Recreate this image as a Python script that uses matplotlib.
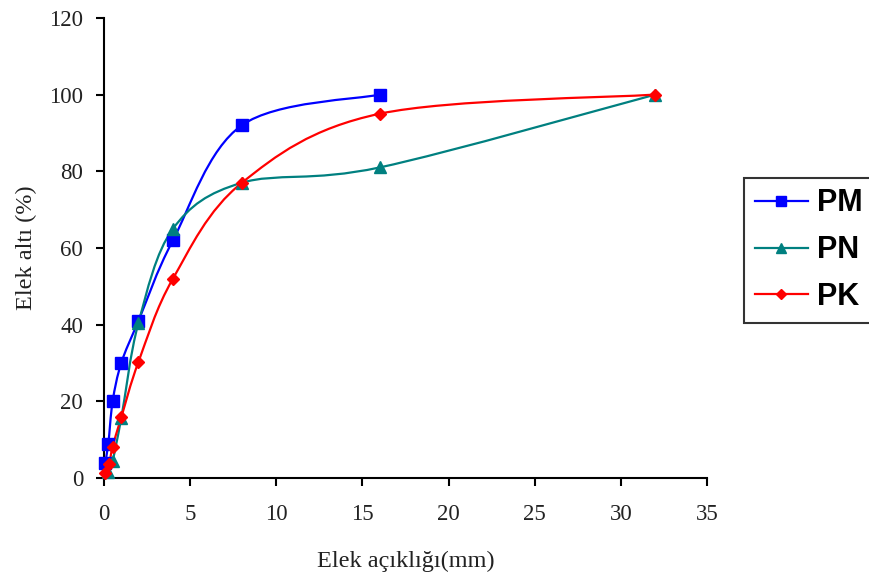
import matplotlib
matplotlib.use("Agg")
import matplotlib.pyplot as plt
from matplotlib.path import Path
from matplotlib.patches import PathPatch
from matplotlib.lines import Line2D
import numpy as np

# sieve data
pm_x = [0.063, 0.25, 0.5, 1, 2, 4, 8, 16]
pm_y = [4, 9, 20, 30, 41, 62, 92, 100]
pn_x = [0.25, 0.5, 1, 2, 4, 8, 16, 32]
pn_y = [1.6, 4.5, 15.6, 40.5, 65, 77, 81, 100]
pk_x = [0.063, 0.3, 0.5, 1, 2, 4, 8, 16, 32]
pk_y = [1.4, 3.8, 8.2, 15.8, 30.3, 52, 77, 95, 100]

series = [("PM", pm_x, pm_y, "#0000FF", "s", 8.5),
          ("PN", pn_x, pn_y, "#008080", "^", 8.5),
          ("PK", pk_x, pk_y, "#FF0000", "D", 6.5)]


def smooth_path(x, y):
    # excel-style smoothed line: cubic bezier segments (Catmull-Rom tangents)
    p = np.column_stack([x, y]).astype(float)
    verts = [p[0]]
    codes = [Path.MOVETO]
    n = len(p)
    for i in range(n - 1):
        p0 = p[i - 1] if i > 0 else p[i]
        p3 = p[i + 2] if i + 2 < n else p[i + 1]
        c1 = p[i] + (p[i + 1] - p0) / 6.0
        c2 = p[i + 1] - (p3 - p[i]) / 6.0
        verts += [c1, c2, p[i + 1]]
        codes += [Path.CURVE4] * 3
    return Path(verts, codes)


fig = plt.figure(figsize=(8.69, 5.76), dpi=100)
ax = fig.add_axes([0.1197, 0.170, 0.694, 0.799])

handles = []
for name, x, y, c, m, ms in series:
    ax.add_patch(PathPatch(smooth_path(x, y), facecolor="none", edgecolor=c, lw=1.6, zorder=2))
    ax.plot(x, y, ls="none", marker=m, ms=ms, color=c, zorder=3, clip_on=False)
    handles.append(Line2D([], [], color=c, lw=1.6, marker=m, ms=ms * 0.85, label=name))

ax.set_xlim(0, 35)
ax.set_ylim(0, 120)
ax.set_xticks(range(0, 36, 5))
ax.set_yticks(range(0, 121, 20))
for s in ["top", "right"]:
    ax.spines[s].set_visible(False)
for s in ["left", "bottom"]:
    ax.spines[s].set_linewidth(1.5)
ax.tick_params(direction="out", length=6, width=1.5, labelsize=16.5, labelcolor="#222222")
ax.tick_params(axis="x", pad=13)
ax.tick_params(axis="y", pad=9)
for lab in ax.get_xticklabels() + ax.get_yticklabels():
    lab.set_family("Liberation Serif")

ax.set_xlabel("Elek açıklığı(mm)", family="Liberation Serif", fontsize=17.5,
              labelpad=18, color="#222222")
ax.set_ylabel("Elek altı (%)", family="Liberation Serif", fontsize=17.5,
              labelpad=9, color="#222222")

leg = ax.legend(handles=handles, loc="center left", bbox_to_anchor=(1.061, 0.495),
                frameon=True, fancybox=False, edgecolor="black", handlelength=1.75,
                prop={"family": "Liberation Sans", "weight": "bold", "size": 22},
                labelspacing=0.55, borderpad=0.35, handletextpad=0.3, borderaxespad=0)
leg.get_frame().set_linewidth(1.5)

plt.savefig("out.png", dpi=100)
